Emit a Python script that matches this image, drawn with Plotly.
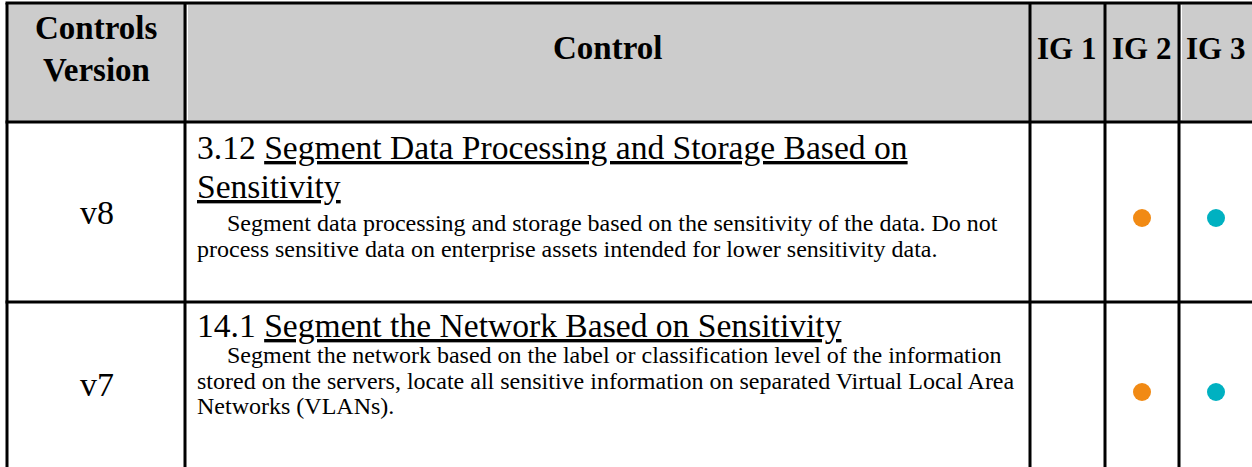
import plotly.graph_objects as go

# ---------------- data ----------------
header_version = ["Controls", "Version"]
header_control = "Control"
ig_labels = ["IG 1", "IG 2", "IG 3"]

versions = ["v8", "v7"]
control_ids = ["3.12", "14.1"]
title_lines = [
    ["Segment Data Processing and Storage Based on", "Sensitivity"],
    ["Segment the Network Based on Sensitivity"],
]
desc_lines = [
    ["Segment data processing and storage based on the sensitivity of the data. Do not",
     "process sensitive data on enterprise assets intended for lower sensitivity data."],
    ["Segment the network based on the label or classification level of the information",
     "stored on the servers, locate all sensitive information on separated Virtual Local Area",
     "Networks (VLANs)."],
]
ig_flags = [  # per row: IG1, IG2, IG3
    [False, True, True],
    [False, True, True],
]
ig_colors = ["#F5C400", "#F18A14", "#00B1C1"]

# ---------------- layout constants ----------------
W, H = 1252, 467
FONT = "Liberation Serif"
col_edges = [7, 185, 1030, 1105, 1179, 1252]
row_edges = [3, 122, 302, 467]
text_x = 195
row_title_y = [[147, 186], [325]]
row_desc_y = [[223, 249], [355, 381, 406]]
dot_y = [218, 392]
indent = "\u00a0" * 5

fig = go.Figure()

shapes = []
# header fill
shapes.append(dict(type="rect", xref="x", yref="y", x0=col_edges[0], x1=W + 5,
                   y0=row_edges[0], y1=row_edges[1], fillcolor="#CCCCCC",
                   line=dict(width=0), layer="below"))
# thin white artifacts in header
for xw in [187.5, 1181.5]:
    shapes.append(dict(type="line", xref="x", yref="y", x0=xw, x1=xw,
                       y0=row_edges[0] + 2, y1=row_edges[1] - 2,
                       line=dict(color="white", width=1), layer="below"))
# horizontal lines
for yy in row_edges[:3]:
    shapes.append(dict(type="line", xref="x", yref="y", x0=col_edges[0] - 1.5, x1=W + 5,
                       y0=yy, y1=yy, line=dict(color="black", width=3)))
# vertical lines
for xx in col_edges[:5]:
    shapes.append(dict(type="line", xref="x", yref="y", x0=xx, x1=xx,
                       y0=row_edges[0], y1=H + 5, line=dict(color="black", width=3)))

annotations = []
def add_text(x, y, text, size, anchor="center", bold=False):
    if bold:
        text = "<b>" + text + "</b>"
    annotations.append(dict(x=x, y=y, xref="x", yref="y", text=text, showarrow=False,
                            xanchor=anchor, yanchor="middle",
                            font=dict(family=FONT, size=size, color="black")))

# header
cx0 = (col_edges[0] + col_edges[1]) / 2
add_text(cx0, 28, header_version[0], 33, bold=True)
add_text(cx0, 70, header_version[1], 33, bold=True)
add_text((col_edges[1] + col_edges[2]) / 2, 48, header_control, 33, bold=True)
ig_centers = [1066, 1141, 1215]
for lab, cx in zip(ig_labels, ig_centers):
    add_text(cx, 48, lab, 31, bold=True)

# rows
for i in range(len(versions)):
    ymid = (row_edges[i + 1] + row_edges[i + 2]) / 2
    add_text(cx0 + 1, ymid, versions[i], 34)
    for j, line in enumerate(title_lines[i]):
        txt = "<u>" + line + "</u>"
        if j == 0:
            txt = control_ids[i] + " " + txt
        add_text(text_x, row_title_y[i][j], txt, 33.6, anchor="left")
    for j, line in enumerate(desc_lines[i]):
        txt = (indent + line) if j == 0 else line
        add_text(text_x, row_desc_y[i][j], txt, 24, anchor="left")

# dots
for k in range(3):
    xs, ys = [], []
    for i in range(len(versions)):
        if ig_flags[i][k]:
            xs.append(ig_centers[k] + 1)
            ys.append(dot_y[i])
    fig.add_trace(go.Scatter(x=xs, y=ys, mode="markers", showlegend=False,
                             hoverinfo="skip",
                             marker=dict(size=18, color=ig_colors[k], line=dict(width=0))))

fig.update_layout(
    width=W, height=H, margin=dict(l=0, r=0, t=0, b=0),
    paper_bgcolor="white", plot_bgcolor="white",
    xaxis=dict(range=[0, W], visible=False, fixedrange=True),
    yaxis=dict(range=[H, 0], visible=False, fixedrange=True),
    shapes=shapes, annotations=annotations, showlegend=False,
)

fig.write_html("out.html", config={"displayModeBar": False},
               post_script="document.body.style.margin='0';document.body.style.overflow='hidden';")
